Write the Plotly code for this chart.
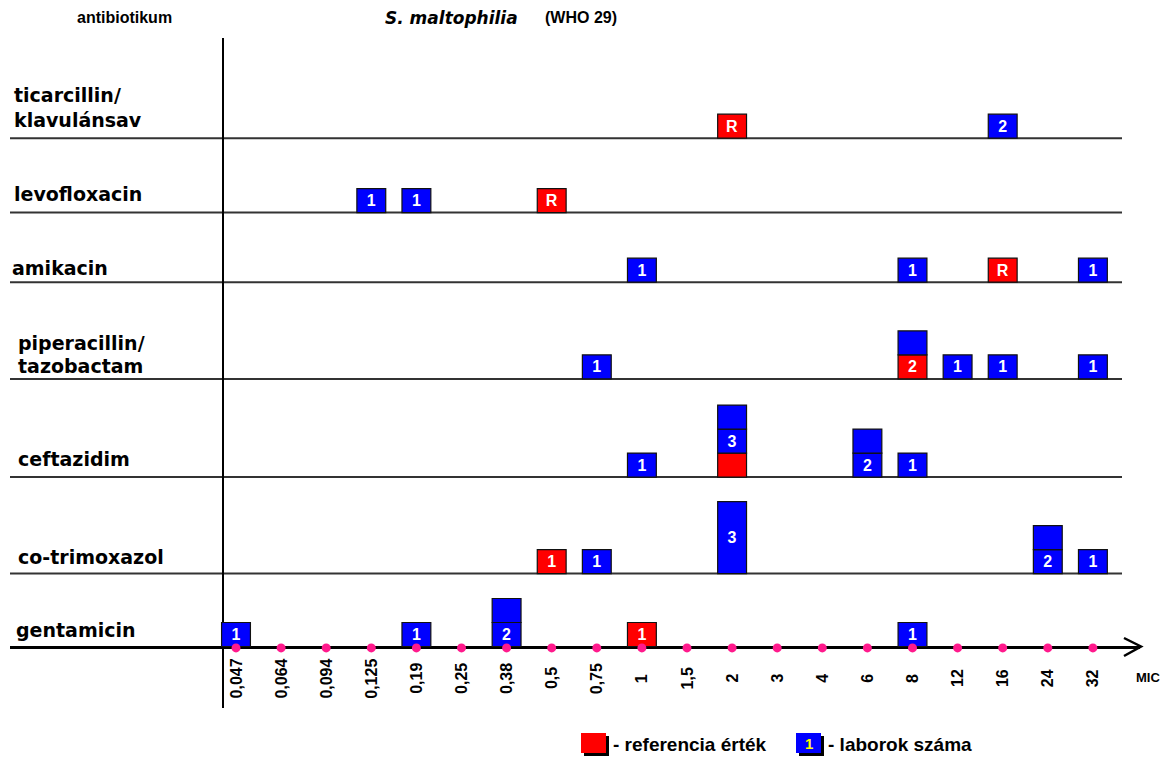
import plotly.graph_objects as go

# ---------------- data ----------------
mic_labels = ["0,047", "0,064", "0,094", "0,125", "0,19", "0,25", "0,38", "0,5", "0,75",
              "1", "1,5", "2", "3", "4", "6", "8", "12", "16", "24", "32"]
antibiotics = ["ticarcillin/<br>klavulánsav", "levofloxacin", "amikacin",
               "piperacillin/<br>tazobactam", "ceftazidim", "co-trimoxazol", "gentamicin"]

# each segment: antibiotic row, MIC label, stack level, height (boxes), kind, text
seg_row = ["ticarcillin/<br>klavulánsav", "ticarcillin/<br>klavulánsav",
           "levofloxacin", "levofloxacin", "levofloxacin",
           "amikacin", "amikacin", "amikacin", "amikacin",
           "piperacillin/<br>tazobactam", "piperacillin/<br>tazobactam", "piperacillin/<br>tazobactam",
           "piperacillin/<br>tazobactam", "piperacillin/<br>tazobactam", "piperacillin/<br>tazobactam",
           "ceftazidim", "ceftazidim", "ceftazidim", "ceftazidim", "ceftazidim", "ceftazidim", "ceftazidim",
           "co-trimoxazol", "co-trimoxazol", "co-trimoxazol", "co-trimoxazol", "co-trimoxazol", "co-trimoxazol",
           "gentamicin", "gentamicin", "gentamicin", "gentamicin", "gentamicin", "gentamicin"]
seg_mic = ["2", "16",
           "0,125", "0,19", "0,5",
           "1", "8", "16", "32",
           "0,75", "8", "8", "12", "16", "32",
           "1", "2", "2", "2", "6", "6", "8",
           "0,5", "0,75", "2", "24", "24", "32",
           "0,047", "0,19", "0,38", "0,38", "1", "8"]
seg_level = [0, 0,
             0, 0, 0,
             0, 0, 0, 0,
             0, 0, 1, 0, 0, 0,
             0, 0, 1, 2, 0, 1, 0,
             0, 0, 0, 0, 1, 0,
             0, 0, 0, 1, 0, 0]
seg_height = [1, 1,
              1, 1, 1,
              1, 1, 1, 1,
              1, 1, 1, 1, 1, 1,
              1, 1, 1, 1, 1, 1, 1,
              1, 1, 3, 1, 1, 1,
              1, 1, 1, 1, 1, 1]
seg_kind = ["ref", "lab",
            "lab", "lab", "ref",
            "lab", "lab", "ref", "lab",
            "lab", "ref", "lab", "lab", "lab", "lab",
            "lab", "ref", "lab", "lab", "lab", "lab", "lab",
            "ref", "lab", "lab", "lab", "lab", "lab",
            "lab", "lab", "lab", "lab", "ref", "lab"]
seg_text = ["R", "2",
            "1", "1", "R",
            "1", "1", "R", "1",
            "1", "2", "", "1", "1", "1",
            "1", "", "3", "", "2", "", "1",
            "1", "1", "3", "2", "", "1",
            "1", "1", "2", "", "1", "1"]

# ---------------- layout helpers ----------------
OFF = 8                      # page body margin of the html page
SW, SH = 1170, 758           # screen size
FW, FH = SW - OFF, SH - OFF  # figure size
row_base = [21.18, 18.08, 15.18, 11.15, 7.06, 3.04, 0.0]   # baseline of each antibiotic row (box units)
row_label_px = [(95, "ticarcillin/"), (120, "klavulánsav"), (194, "levofloxacin"), (268, "amikacin"),
                (343, "piperacillin/"), (366, "tazobactam"), (459, "ceftazidim"),
                (557, "co-trimoxazol"), (630, "gentamicin")]
row_label_x = [12, 12, 12, 10, 16, 16, 16, 16, 14]
kind_color = {"ref": "#ff0000", "lab": "#0000ff"}

mic_index = {m: i for i, m in enumerate(mic_labels)}
row_index = {a: i for i, a in enumerate(antibiotics)}

bx = [mic_index[m] for m in seg_mic]
bbase = [row_base[row_index[r]] + lv for r, lv in zip(seg_row, seg_level)]
bcol = [kind_color[k] for k in seg_kind]


def fx(sx):
    return (sx - OFF) / FW


def fy(sy):
    return 1 - (sy - OFF) / FH


fig = go.Figure()

fig.add_trace(go.Bar(
    x=bx, y=seg_height, base=bbase, width=0.64,
    marker=dict(color=bcol, line=dict(color="#111111", width=1.2)),
    text=seg_text, textposition="inside", insidetextanchor="middle", textangle=0,
    insidetextfont=dict(family="Liberation Sans", size=16, color="white", weight="bold"),
    hoverinfo="skip", showlegend=False, cliponaxis=False,
))

# pink tick dots on the MIC axis
fig.add_trace(go.Scatter(
    x=list(range(len(mic_labels))), y=[-0.06] * len(mic_labels), mode="markers",
    marker=dict(color="#ff1a8c", size=9), hoverinfo="skip", showlegend=False, cliponaxis=False,
))

shapes = []
# row separator lines
for b in row_base[:-1]:
    shapes.append(dict(type="line", xref="paper", yref="y", x0=fx(10), x1=fx(1122), y0=b, y1=b,
                       line=dict(color="#333333", width=2), layer="below"))
# arrow head
shapes.append(dict(type="path", xref="paper", yref="paper",
                   path=f"M {fx(1124)} {fy(638)} L {fx(1141)} {fy(646.5)} L {fx(1124)} {fy(656)}",
                   line=dict(color="black", width=2.5)))
# legend boxes (with shadow)
shapes.append(dict(type="rect", xref="paper", yref="paper", x0=fx(584), x1=fx(609), y0=fy(736), y1=fy(756),
                   fillcolor="black", line=dict(width=0)))
shapes.append(dict(type="rect", xref="paper", yref="paper", x0=fx(581), x1=fx(606), y0=fy(733), y1=fy(753),
                   fillcolor="#ff0000", line=dict(width=0)))
shapes.append(dict(type="rect", xref="paper", yref="paper", x0=fx(799), x1=fx(824), y0=fy(736), y1=fy(756),
                   fillcolor="black", line=dict(width=0)))
shapes.append(dict(type="rect", xref="paper", yref="paper", x0=fx(796), x1=fx(821), y0=fy(733), y1=fy(753),
                   fillcolor="#0000ff", line=dict(width=0)))

ann = []
bold = dict(family="Liberation Sans", color="black", weight="bold")
# MIC tick labels
for i, lab in enumerate(mic_labels):
    ann.append(dict(x=i, y=-1.33, xref="x", yref="y", text=lab, textangle=-90, showarrow=False,
                    xanchor="center", yanchor="middle", font=dict(size=16, **bold)))
ann.append(dict(x=fx(1148), y=fy(677), xref="paper", yref="paper", text="MIC", showarrow=False,
                xanchor="center", yanchor="middle", font=dict(size=13, **bold)))
# row labels
for (yp, t), xp in zip(row_label_px, row_label_x):
    ann.append(dict(x=fx(xp), y=fy(yp), xref="paper", yref="paper", text=t, showarrow=False,
                    xanchor="left", yanchor="middle",
                    font=dict(size=19, family="DejaVu Sans", color="black", weight="bold")))
# headers
ann.append(dict(x=fx(75), y=fy(18), xref="paper", yref="paper", text="antibiotikum", showarrow=False,
                xanchor="left", yanchor="middle", font=dict(size=16, **bold)))
ann.append(dict(x=fx(383), y=fy(18), xref="paper", yref="paper", text="<i>S. maltophilia</i>",
                showarrow=False, xanchor="left", yanchor="middle",
                font=dict(size=17, family="DejaVu Sans", color="black", weight="bold")))
ann.append(dict(x=fx(543), y=fy(18), xref="paper", yref="paper", text="(WHO 29)",
                showarrow=False, xanchor="left", yanchor="middle", font=dict(size=16, **bold)))
# legend texts
ann.append(dict(x=fx(611), y=fy(744), xref="paper", yref="paper", text="- referencia érték",
                showarrow=False, xanchor="left", yanchor="middle", font=dict(size=19, **bold)))
ann.append(dict(x=fx(808.5), y=fy(743), xref="paper", yref="paper", text="1",
                showarrow=False, xanchor="center", yanchor="middle",
                font=dict(size=15, family="Liberation Sans", color="#ffff00", weight="bold")))
ann.append(dict(x=fx(826), y=fy(744), xref="paper", yref="paper", text="- laborok száma",
                showarrow=False, xanchor="left", yanchor="middle", font=dict(size=19, **bold)))

# axis geometry: x index i -> screen pixel 236 + 45.1*i ; y: 24 px per box, axis at 646.5
x_dom = [fx(10), fx(1140)]
x_rng = [(10 - 236) / 45.1, (1140 - 236) / 45.1]
y_dom = [fy(708), fy(38)]
y_rng = [(646.5 - 708) / 24, (646.5 - 38) / 24]

fig.update_layout(
    width=FW, height=FH, margin=dict(l=0, r=0, t=0, b=0),
    paper_bgcolor="white", plot_bgcolor="rgba(0,0,0,0)",
    barmode="overlay", showlegend=False,
    shapes=shapes, annotations=ann,
    xaxis=dict(domain=x_dom, range=x_rng, anchor="free", position=fy(646.5), layer="below traces",
               showline=True, linecolor="black", linewidth=2.5, showgrid=False, zeroline=False,
               showticklabels=False, ticks="", fixedrange=True),
    yaxis=dict(domain=y_dom, range=y_rng, anchor="free", position=fx(223), layer="below traces",
               showline=True, linecolor="black", linewidth=1.5, showgrid=False, zeroline=False,
               showticklabels=False, ticks="", fixedrange=True),
)

fig.write_html("out.html")
